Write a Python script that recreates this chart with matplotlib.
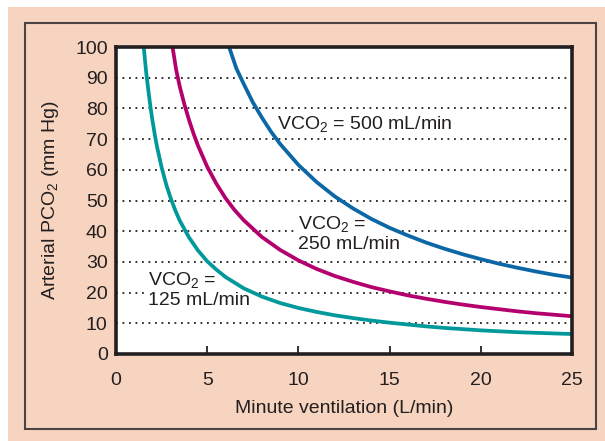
import numpy as np
import matplotlib.pyplot as plt
from matplotlib.patches import Rectangle

plt.rcParams['font.family'] = ['Liberation Sans', 'DejaVu Sans']
plt.rcParams['mathtext.fontset'] = 'custom'
plt.rcParams['mathtext.rm'] = 'Liberation Sans'

# --- values ---
vent_500 = [6.2, 6.6, 7.0, 7.5, 8.0, 8.5, 9.0, 10.0, 11.0, 12.0, 13.0, 14.0, 15.0,
            16.0, 17.0, 18.0, 19.0, 20.0, 21.0, 22.0, 23.0, 24.0, 25.0]
paco2_500 = [100, 93, 88, 82, 77, 72.4, 68.4, 61.6, 56, 51.3, 47.4, 44, 41.1,
             38.6, 36.3, 34.3, 32.5, 30.9, 29.4, 28.1, 26.9, 25.8, 24.9]

vent_250 = [3.1, 3.3, 3.5, 3.75, 4.0, 4.25, 4.5, 5.0, 5.5, 6.0, 6.5, 7.0, 8.0, 9.0,
            10.0, 11.0, 12.0, 13.0, 14.0, 15.0, 16.0, 17.0, 18.0, 19.0, 20.0,
            21.0, 22.0, 23.0, 24.0, 25.0]
paco2_250 = [100, 92.5, 87, 81.3, 76.3, 71.8, 67.8, 61, 55.5, 50.8, 46.9, 43.6, 38.1, 33.9,
             30.5, 27.7, 25.4, 23.5, 21.8, 20.4, 19.1, 18.0, 17.0, 16.1, 15.3,
             14.6, 13.9, 13.3, 12.8, 12.3]

vent_125 = [1.52, 1.65, 1.75, 1.9, 2.0, 2.15, 2.25, 2.5, 2.75, 3.0, 3.25, 3.5, 4.0, 4.5,
            5.0, 5.5, 6.0, 7.0, 8.0, 9.0, 10.0, 11.0, 12.0, 13.0, 14.0, 15.0,
            16.0, 17.0, 18.0, 19.0, 20.0, 21.0, 22.0, 23.0, 24.0, 25.0]
paco2_125 = [100, 92, 87, 80, 76, 70.6, 67.5, 60.8, 55.3, 50.7, 46.8, 43.4, 38.0, 33.7,
             30.2, 27.5, 25.1, 21.4, 18.7, 16.6, 15.0, 13.7, 12.6, 11.7, 10.9, 10.2,
             9.6, 9.0, 8.5, 8.1, 7.7, 7.4, 7.1, 6.9, 6.7, 6.5]

x_ticks = [0, 5, 10, 15, 20, 25]
y_ticks = [0, 10, 20, 30, 40, 50, 60, 70, 80, 90, 100]

PEACH = '#f7d4bf'
BLUE = '#0b67a6'
MAGENTA = '#b3006c'
TEAL = '#00999b'
DARK = '#231f20'
FS = 14

fig = plt.figure(figsize=(6.05, 4.41), dpi=100)
fig.patch.set_facecolor('white')

# peach panel and thin border (behind the axes)
fig.patches.append(Rectangle((8 / 605, 0), 597 / 605, 434 / 441, transform=fig.transFigure,
                             facecolor=PEACH, edgecolor='none', zorder=-2))
fig.patches.append(Rectangle((24.5 / 605, 12 / 441), 571 / 605, 406.5 / 441,
                             transform=fig.transFigure, facecolor='none',
                             edgecolor='#4a4446', lw=1.5, zorder=-1))

ax = fig.add_axes([116 / 605, 87 / 441, 456 / 605, 307 / 441])
ax.set_zorder(2)
ax.set_facecolor('white')

for y in y_ticks[1:-1]:
    ax.axhline(y, color=DARK, lw=1.3, linestyle=(0, (1, 2.6)), zorder=1)

ax.plot(vent_500, paco2_500, color=BLUE, lw=2.7, solid_capstyle='butt', zorder=3)
ax.plot(vent_250, paco2_250, color=MAGENTA, lw=2.7, solid_capstyle='butt', zorder=3)
ax.plot(vent_125, paco2_125, color=TEAL, lw=2.7, solid_capstyle='butt', zorder=3)

# labels sit on white boxes that break the dotted grid but not the curves
box = dict(facecolor='white', edgecolor='none', pad=1.0)
ax.text(8.85, 75, r'VCO$\mathregular{_2}$ = 500 mL/min', fontsize=FS, color=DARK,
        va='center', ha='left', zorder=2, bbox=box)
ax.text(10.0, 39.2, 'VCO$\\mathregular{_2}$ =\n250 mL/min', fontsize=FS, color=DARK,
        va='center', ha='left', zorder=2, linespacing=1.2, bbox=box)
ax.text(1.75, 21, 'VCO$\\mathregular{_2}$ =\n125 mL/min', fontsize=FS, color=DARK,
        va='center', ha='left', zorder=2, linespacing=1.2, bbox=box)

ax.set_xlim(0, 25)
ax.set_ylim(0, 100)
ax.set_xticks(x_ticks)
ax.set_yticks(y_ticks)
ax.tick_params(axis='x', direction='in', length=6, width=1.3, color=DARK,
               labelsize=FS, labelcolor=DARK, pad=13)
ax.tick_params(axis='y', length=0, labelsize=FS, labelcolor=DARK, pad=6)
for s in ax.spines.values():
    s.set_linewidth(2.6)
    s.set_color(DARK)
    s.set_zorder(5)

ax.set_xlabel('Minute ventilation (L/min)', fontsize=FS, color=DARK, labelpad=8)
ax.set_ylabel('Arterial PCO$\\mathregular{_2}$ (mm Hg)', fontsize=FS, color=DARK, labelpad=10)

fig.savefig('out.png', dpi=100, facecolor=fig.get_facecolor())
